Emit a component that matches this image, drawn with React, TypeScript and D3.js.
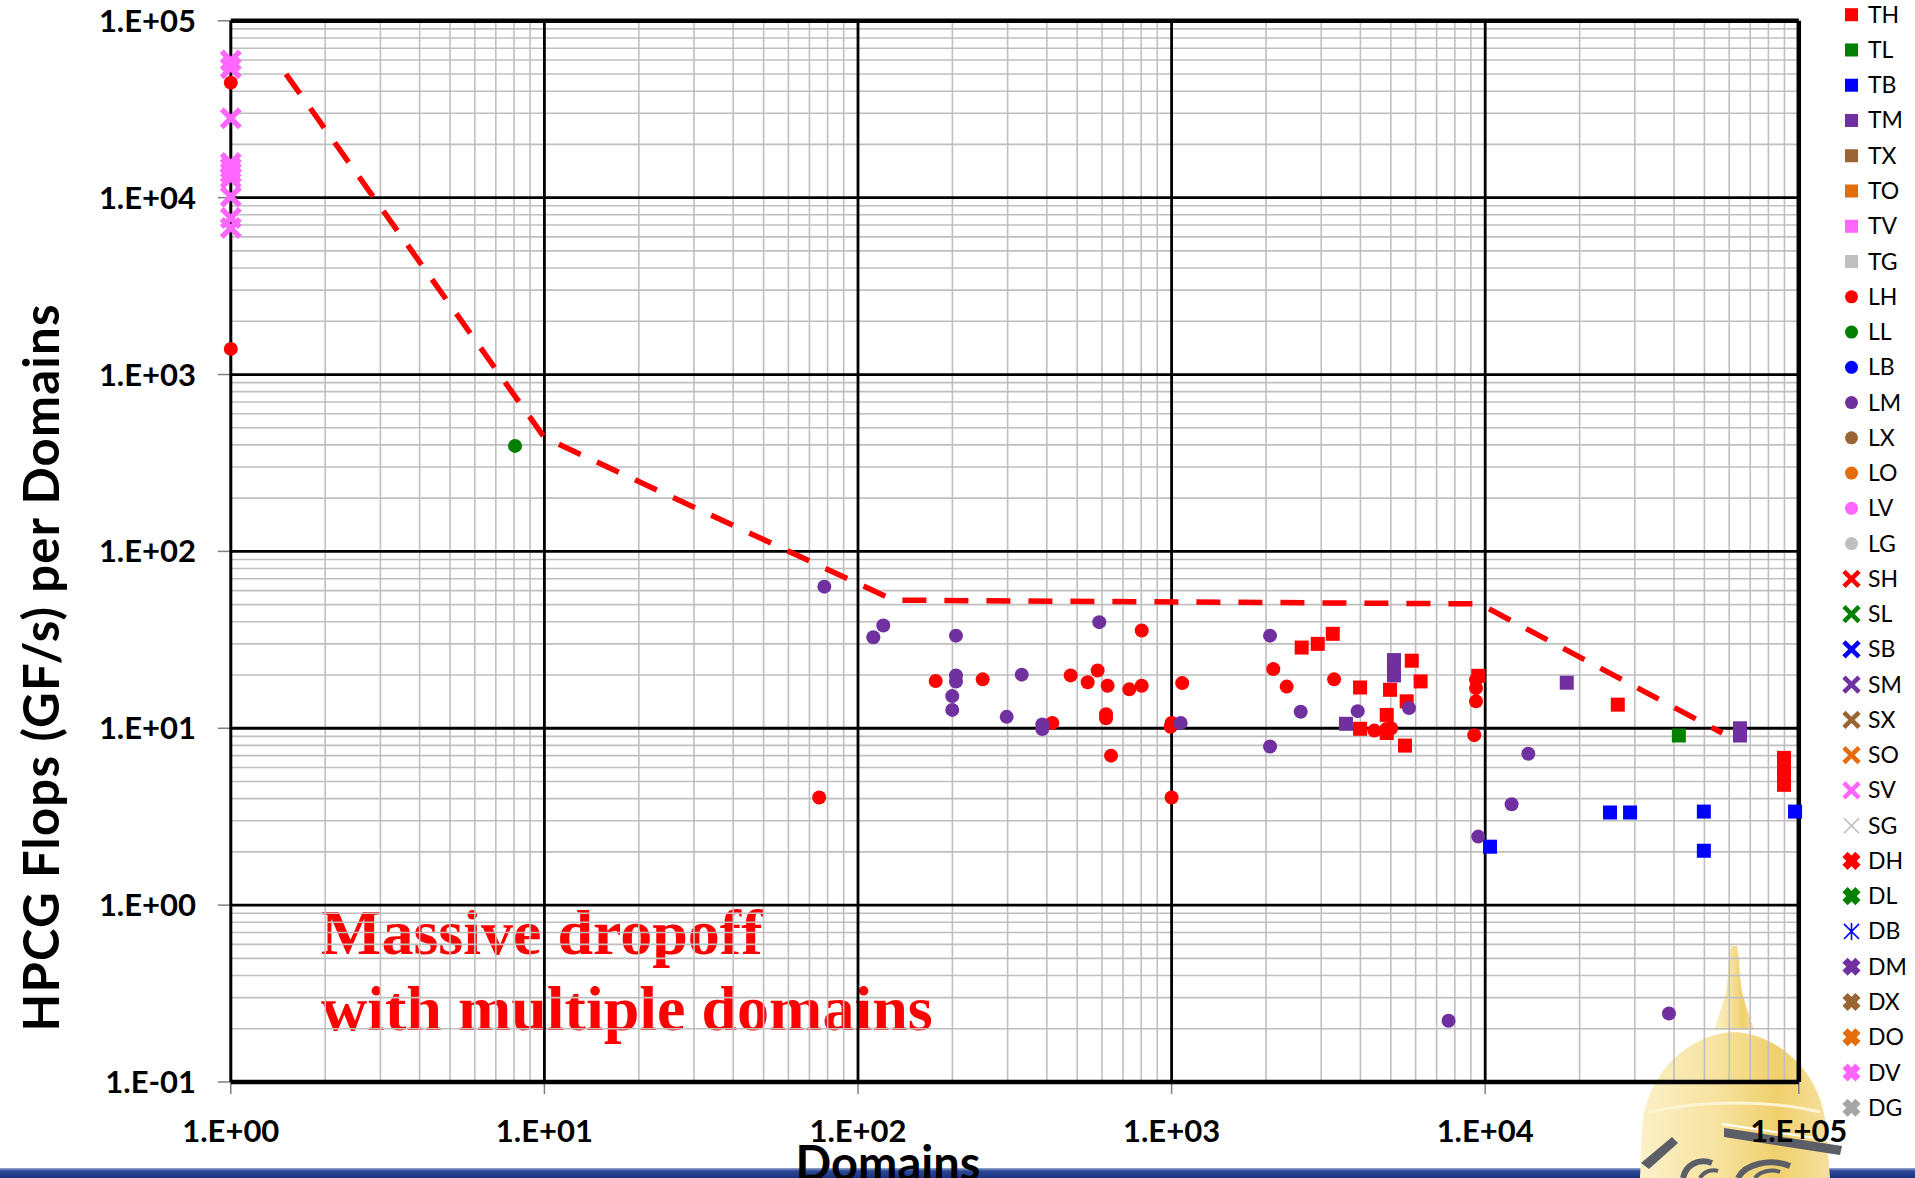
import React from 'react';
import * as d3 from 'd3';

// ---------- data ----------
// [domains, HPCG GF/s per domain]
const TH: [number, number][] = [
  [2599, 28.6], [2924, 30.0], [3265, 34.2], [3990, 17.0], [3990, 9.93], [4972, 16.5],
  [5618, 14.2], [4853, 11.9], [4853, 9.4], [5549, 7.98], [5832, 24.1], [6223, 18.4],
  [9510, 19.8], [26470, 13.6], [89700, 6.8], [89700, 6.05], [89700, 5.38], [89700, 4.79],
];
const TL: [number, number][] = [[41450, 9.1]];
const TB: [number, number][] = [
  [10360, 2.14], [25000, 3.34], [28970, 3.34], [49800, 3.38], [49800, 2.03], [97300, 3.38],
];
const TM: [number, number][] = [
  [3597, 10.6], [5118, 24.3], [5118, 22.0], [5118, 19.9], [18200, 18.1], [64930, 10.0], [64930, 9.1],
];
const LH: [number, number][] = [
  [1, 44700], [1, 1396], [75.2, 4.06], [176.9, 18.5], [249.8, 18.9], [416.5, 10.7],
  [476.5, 19.9], [540, 18.2], [581, 21.2], [625, 17.4], [618, 12.0], [618, 11.4], [641, 7.0],
  [733, 16.6], [803, 17.4], [803, 35.7], [1000, 10.7], [993, 10.2], [1081, 18.0], [1000, 4.06],
  [2110, 21.6], [2328, 17.2], [3297, 18.9], [4430, 9.7], [4840, 9.9], [5010, 10.0],
  [9346, 18.8], [9346, 16.9], [9346, 14.2], [9230, 9.14],
];
const LL: [number, number][] = [[8.06, 395]];
const LM: [number, number][] = [
  [78.1, 63.2], [111.9, 32.7], [120.4, 38.1], [205.3, 33.4], [205.3, 19.9], [205.3, 18.4],
  [199.8, 15.2], [199.8, 12.7], [332.7, 20.1], [297.9, 11.6], [387, 10.5], [387, 9.9],
  [588, 39.8], [1069, 10.7], [2060, 33.4], [2060, 7.88], [2580, 12.4], [3921, 12.5],
  [5715, 13.0], [13725, 7.17], [12140, 3.72], [9500, 2.44], [7640, 0.222], [38550, 0.244],
];
const SV: [number, number][] = [
  [1, 59700], [1, 54000], [1, 28100], [1, 15700], [1, 14700], [1, 13800], [1, 12900],
  [1, 10130], [1, 7670], [1, 6740],
];
// envelope of the best per-domain rate
const TREND: [number, number][] = [[1.5, 50000], [10, 440], [130, 53], [9600, 50.5], [57000, 9.4]];

const SERIES_DATA: Record<string, [number, number][]> = { TH, TL, TB, TM, LH, LL, LM, SV };

const LEGEND_NAMES = [
  'TH', 'TL', 'TB', 'TM', 'TX', 'TO', 'TV', 'TG',
  'LH', 'LL', 'LB', 'LM', 'LX', 'LO', 'LV', 'LG',
  'SH', 'SL', 'SB', 'SM', 'SX', 'SO', 'SV', 'SG',
  'DH', 'DL', 'DB', 'DM', 'DX', 'DO', 'DV', 'DG',
];

const X_TICKS = [1, 10, 100, 1000, 10000, 100000];
const X_TICK_LABELS = ['1.E+00', '1.E+01', '1.E+02', '1.E+03', '1.E+04', '1.E+05'];
const Y_TICKS = [0.1, 1, 10, 100, 1000, 10000, 100000];
const Y_TICK_LABELS = ['1.E-01', '1.E+00', '1.E+01', '1.E+02', '1.E+03', '1.E+04', '1.E+05'];

// ---------- styling ----------
const W = 1915;
const H = 1178;
const PLOT = { left: 230.8, right: 1798.8, top: 20.8, bottom: 1082 };

const COLOR: Record<string, string> = {
  H: '#FF0000', L: '#008000', B: '#0000FF', M: '#7030A0',
  X: '#996633', O: '#E46C0A', V: '#FF66FF', G: '#BFBFBF',
};

type Shape = 'square' | 'circle' | 'x' | 'xthin' | 'xheavy' | 'star';

function styleOf(name: string): { shape: Shape; color: string } {
  const p = name[0];
  const c = name[1];
  let color = COLOR[c];
  let shape: Shape = p === 'T' ? 'square' : p === 'L' ? 'circle' : p === 'S' ? 'x' : 'xheavy';
  if (name === 'SG') shape = 'xthin';
  if (name === 'DB') shape = 'star';
  if (name === 'DG') color = '#A6A6A6';
  return { shape, color };
}

function Marker({ shape, color, cx, cy, s = 1 }: { shape: Shape; color: string; cx: number; cy: number; s?: number }) {
  const h = 7 * s;
  const xPath = `M${cx - h},${cy - h}L${cx + h},${cy + h}M${cx - h},${cy + h}L${cx + h},${cy - h}`;
  switch (shape) {
    case 'square':
      return <rect x={cx - h} y={cy - h} width={2 * h} height={2 * h} fill={color} />;
    case 'circle':
      return <circle cx={cx} cy={cy} r={h} fill={color} />;
    case 'x':
      return <path d={xPath} stroke={color} strokeWidth={4.2 * s} fill="none" />;
    case 'xthin':
      return <path d={xPath} stroke={color} strokeWidth={1.6} fill="none" />;
    case 'xheavy': {
      const k = 6 * s;
      const d = `M${cx - k},${cy - k}L${cx + k},${cy + k}M${cx - k},${cy + k}L${cx + k},${cy - k}`;
      return <path d={d} stroke={color} strokeWidth={6.8 * s} fill="none" />;
    }
    case 'star':
      return (
        <path
          d={`${xPath}M${cx},${cy - h - 1}L${cx},${cy + h + 1}`}
          stroke={color}
          strokeWidth={1.6}
          fill="none"
        />
      );
  }
  return null;
}

const isPow10 = (v: number) => Math.abs(Math.log10(v) - Math.round(Math.log10(v))) < 1e-9;

function Dome() {
  return (
    <g>
      <defs>
        <linearGradient id="gold" x1="0" y1="0" x2="1" y2="0">
          <stop offset="0" stopColor="#FBF1C8" />
          <stop offset="0.4" stopColor="#F7E3A0" />
          <stop offset="0.72" stopColor="#F0D06C" />
          <stop offset="1" stopColor="#F6E0A0" />
        </linearGradient>
      </defs>
      {/* statue and spire */}
      <path
        d="M1731,946 L1737,946 L1739,960 L1740,976 L1742,992 L1746,1006 L1750,1018 L1754,1030 L1714,1030 L1718,1018 L1722,1006 L1726,992 L1728,976 L1729,960 Z"
        fill="url(#gold)"
      />
      {/* dome */}
      <path
        d="M1640,1178 L1642,1128 C1646,1072 1690,1034 1734,1032 C1778,1034 1822,1072 1826,1128 L1830,1178 Z"
        fill="url(#gold)"
      />
      {/* drum ring */}
      <path d="M1650,1112 C1700,1100 1770,1100 1820,1112" stroke="#FBF3D2" strokeWidth={3} fill="none" />
      {/* roof pieces */}
      <path d="M1724,1128 L1842,1146 L1840,1155 L1724,1137 Z" fill="#5B5E66" />
      <path d="M1722,1124 L1842,1142" stroke="#FFFFFF" strokeWidth={2} fill="none" />
      <path d="M1641,1163 L1672,1137 L1678,1143 L1649,1169 Z" fill="#5B5E66" />
      {/* arches */}
      <path d="M1683,1178 C1686,1165 1698,1158 1712,1163" stroke="#5B5E66" strokeWidth={6} fill="none" />
      <path d="M1738,1178 C1745,1164 1770,1158 1790,1166" stroke="#5B5E66" strokeWidth={6} fill="none" />
      <path d="M1700,1178 C1704,1171 1712,1169 1718,1171" stroke="#5B5E66" strokeWidth={4} fill="none" />
      <path d="M1755,1178 C1760,1171 1772,1169 1780,1172" stroke="#5B5E66" strokeWidth={4} fill="none" />
    </g>
  );
}

export default function App() {
  const x = d3.scaleLog().domain([1, 1e5]).range([PLOT.left, PLOT.right]);
  const y = d3.scaleLog().domain([0.1, 1e5]).range([PLOT.bottom, PLOT.top]);

  const xMinor = x.ticks().filter((v) => !isPow10(v));
  const yMinor = y.ticks().filter((v) => !isPow10(v));

  const trendPath = d3
    .line<[number, number]>()
    .x((d) => x(d[0]))
    .y((d) => y(d[1]))(TREND) as string;

  const axisFont = { fontFamily: 'Lato, "Noto Sans", sans-serif', fontWeight: 700 } as const;

  return (
    <svg
      width={W}
      height={H}
      viewBox={`0 0 ${W} ${H}`}
      style={{ position: 'absolute', left: 0, top: 0, display: 'block', background: '#fff' }}
    >
      <rect x={0} y={0} width={W} height={H} fill="#FFFFFF" />

      {/* footer band */}
      <defs>
        <linearGradient id="band" x1="0" y1="0" x2="0" y2="1">
          <stop offset="0" stopColor="#9BAAD2" />
          <stop offset="0.3" stopColor="#2C4796" />
          <stop offset="1" stopColor="#1B3380" />
        </linearGradient>
      </defs>
      <rect x={0} y={1168} width={W} height={10} fill="url(#band)" />

      <Dome />

      {/* annotation */}
      <g fontFamily='"Liberation Serif", "DejaVu Serif", serif' fontWeight={700} fontSize={64} fill="#FF0000">
        <text x={321} y={954}>Massive dropoff</text>
        <text x={321} y={1030}>with multiple domains</text>
      </g>

      {/* minor grid */}
      <g stroke="#BFBFBF" strokeWidth={1.6}>
        {xMinor.map((v) => (
          <line key={`xm${v}`} x1={x(v)} x2={x(v)} y1={PLOT.top} y2={PLOT.bottom} />
        ))}
        {yMinor.map((v) => (
          <line key={`ym${v}`} x1={PLOT.left} x2={PLOT.right} y1={y(v)} y2={y(v)} />
        ))}
      </g>

      {/* major grid */}
      <g stroke="#000" strokeWidth={2.8}>
        {X_TICKS.slice(1, -1).map((v) => (
          <line key={`xM${v}`} x1={x(v)} x2={x(v)} y1={PLOT.top} y2={PLOT.bottom} />
        ))}
        {Y_TICKS.slice(1, -1).map((v) => (
          <line key={`yM${v}`} x1={PLOT.left} x2={PLOT.right} y1={y(v)} y2={y(v)} />
        ))}
      </g>

      {/* tick marks */}
      <g stroke="#7F7F7F" strokeWidth={1.5}>
        {Y_TICKS.map((v) => (
          <line key={`yt${v}`} x1={PLOT.left - 13} x2={PLOT.left} y1={y(v)} y2={y(v)} />
        ))}
        {X_TICKS.map((v) => (
          <line key={`xt${v}`} x1={x(v)} x2={x(v)} y1={PLOT.bottom} y2={PLOT.bottom + 12} />
        ))}
      </g>

      {/* frame */}
      <line x1={PLOT.left} x2={PLOT.right} y1={PLOT.top} y2={PLOT.top} stroke="#000" strokeWidth={4.5} />
      <line x1={PLOT.left} x2={PLOT.right} y1={PLOT.bottom} y2={PLOT.bottom} stroke="#000" strokeWidth={4.5} />
      <line x1={PLOT.right} x2={PLOT.right} y1={PLOT.top} y2={PLOT.bottom} stroke="#000" strokeWidth={4.5} />
      <line x1={PLOT.left} x2={PLOT.left} y1={PLOT.top} y2={PLOT.bottom} stroke="#000" strokeWidth={3} />

      {/* tick labels */}
      <g {...axisFont} fontSize={31} fill="#000">
        {Y_TICKS.map((v, i) => (
          <text key={`yl${v}`} x={196} y={y(v) + 11} textAnchor="end">
            {Y_TICK_LABELS[i]}
          </text>
        ))}
        {X_TICKS.map((v, i) => (
          <text key={`xl${v}`} x={x(v)} y={1141.5} textAnchor="middle">
            {X_TICK_LABELS[i]}
          </text>
        ))}
      </g>

      {/* axis titles */}
      <text
        {...axisFont}
        fontSize={49}
        textAnchor="middle"
        textLength={727}
        lengthAdjust="spacing"
        transform="translate(59,668) rotate(-90)"
      >
        HPCG Flops (GF/s) per Domains
      </text>
      <text {...axisFont} fontSize={47} x={888} y={1180} textAnchor="middle">
        Domains
      </text>

      {/* envelope */}
      <path d={trendPath} fill="none" stroke="#FF0000" strokeWidth={5.5} strokeDasharray="24 18" />

      {/* data points */}
      {LEGEND_NAMES.map((name) => {
        const data = SERIES_DATA[name];
        if (!data) return null;
        const { shape, color } = styleOf(name);
        return (
          <g key={`s${name}`}>
            {data.map((d, i) => (
              <Marker key={i} shape={shape} color={color} cx={x(d[0])} cy={y(d[1])} s={shape === 'x' ? 1.3 : 1} />
            ))}
          </g>
        );
      })}

      {/* legend */}
      <g fontFamily='Lato, "Noto Sans", sans-serif' fontSize={23} fill="#000">
        {LEGEND_NAMES.map((name, i) => {
          const ly = 14.7 + i * 35.26;
          const { shape, color } = styleOf(name);
          const s = shape === 'square' || shape === 'circle' ? 0.93 : 1.08;
          return (
            <g key={`lg${name}`}>
              <Marker shape={shape} color={color} cx={1851.5} cy={ly} s={s} />
              <text x={1868} y={ly + 8}>
                {name}
              </text>
            </g>
          );
        })}
      </g>
    </svg>
  );
}
